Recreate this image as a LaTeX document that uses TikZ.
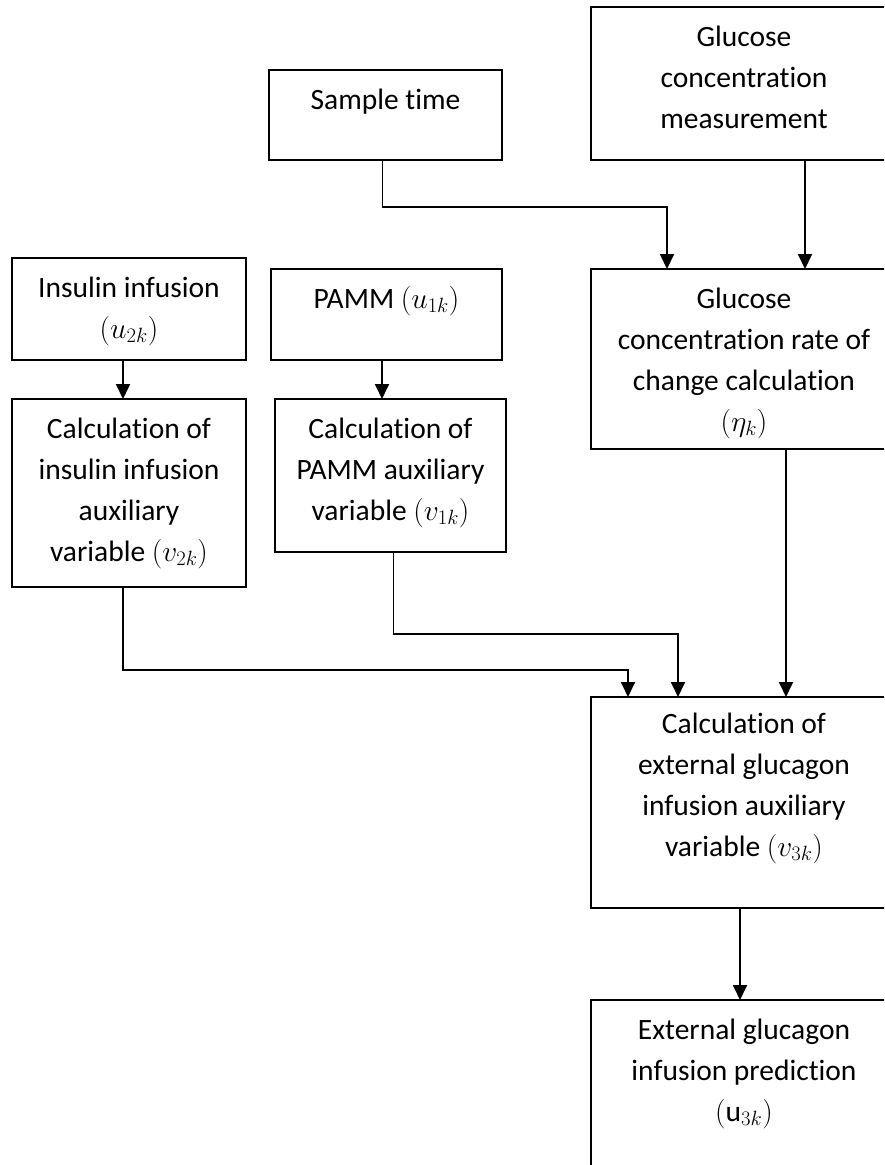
\RequirePackage{fix-cm}
\documentclass[tikz,border=0pt]{standalone}
\usepackage{fontspec}
\setmainfont{Carlito}[Ligatures={NoCommon}]
\usetikzlibrary{arrows.meta}

% invisible strut that fixes the height of the first text line
\newcommand\firststrut{\vrule height 23pt depth 0pt width 0pt}

\tikzset{
  box/.style={draw=black, line width=1.8pt, inner sep=0pt, outer sep=0pt,
              rectangle, anchor=north west},
  txt/.style={font=\fontsize{29.5}{41}\selectfont, align=center,
              inner sep=0pt, outer sep=0pt, anchor=north},
  arr/.style={draw=black, line width=1.8pt,
              -{Triangle[width=14pt,length=15pt]}},
}

\begin{document}
\begin{tikzpicture}[x=1pt, y=-1pt]
  \useasboundingbox (0,0) rectangle (884,1165);
  \clip (0,0) rectangle (884,1165);

  % boxes
  \node[box, minimum width=306pt, minimum height=153pt] (meas)  at (591,7)   {};
  \node[box, minimum width=233pt, minimum height=90pt]  (samp)  at (269,70)  {};
  \node[box, minimum width=234pt, minimum height=102pt] (ins)   at (12,258)  {};
  \node[box, minimum width=231pt, minimum height=91pt]  (pamm)  at (271,269) {};
  \node[box, minimum width=306pt, minimum height=180pt] (rate)  at (591,269) {};
  \node[box, minimum width=234pt, minimum height=188pt] (cins)  at (12,399)  {};
  \node[box, minimum width=231pt, minimum height=153pt] (cpamm) at (275,399) {};
  \node[box, minimum width=306pt, minimum height=211pt] (cglu)  at (591,697) {};
  \node[box, minimum width=306pt, minimum height=220pt] (pred)  at (591,1000) {};

  % texts
  \node[txt] (tmeas) at ([yshift=-16pt]meas.north)
    {\firststrut Glucose\\concentration\\measurement};
  \node[txt] (tsamp) at ([yshift=-16pt]samp.north)
    {\firststrut Sample time};
  \node[txt] (tins) at ([yshift=-16pt]ins.north)
    {\firststrut Insulin infusion\\$(u_{2k})$};
  \node[txt] (tpamm) at ([yshift=-16pt]pamm.north)
    {\firststrut PAMM $(u_{1k})$};
  \node[txt] (trate) at ([yshift=-16pt]rate.north)
    {\firststrut Glucose\\concentration rate of\\change calculation\\$(\eta_k)$};
  \node[txt] (tcins) at ([yshift=-16pt]cins.north)
    {\firststrut Calculation of\\insulin infusion\\auxiliary\\variable $(v_{2k})$};
  \node[txt] (tcpamm) at ([yshift=-16pt]cpamm.north)
    {\firststrut Calculation of\\PAMM auxiliary\\variable $(v_{1k})$};
  \node[txt] (tcglu) at ([yshift=-13pt]cglu.north)
    {\firststrut Calculation of\\external glucagon\\infusion auxiliary\\variable $(v_{3k})$};
  \node[txt] (tpred) at ([yshift=-16pt]pred.north)
    {\firststrut External glucagon\\infusion prediction\\$(\mathrm{u}_{3k})$};

  % connectors
  \draw[arr] ([xshift=-3pt]samp.south) -- ++(0,47) -| ([xshift=76pt]rate.north west);
  \draw[arr] ([xshift=214pt]meas.south west) -- ([xshift=214pt]rate.north west);
  \draw[arr] ([xshift=-6pt]ins.south) -- ([xshift=-6pt]cins.north);
  \draw[arr] ([xshift=111pt]pamm.south west) -- ([xshift=107pt]cpamm.north west);
  \draw[arr] ([xshift=-6pt]cins.south) -- ++(0,83) -| ([xshift=37pt]cglu.north west);
  \draw[arr] ([xshift=3pt]cpamm.south) -- ++(0,82) -| ([xshift=87pt]cglu.north west);
  \draw[arr] ([xshift=195pt]rate.south west) -- ([xshift=195pt]cglu.north west);
  \draw[arr] ([xshift=149pt]cglu.south west) -- ([xshift=149pt]pred.north west);
\end{tikzpicture}
\end{document}
